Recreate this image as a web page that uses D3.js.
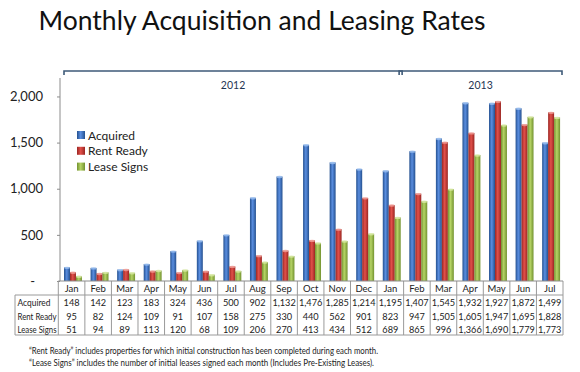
<!DOCTYPE html>
<html><head><meta charset="utf-8">
<script src="https://cdn.jsdelivr.net/npm/d3@7"></script>
<style>
html,body{margin:0;padding:0;background:#fff;}
svg{display:block;font-family:Lato,"Open Sans",sans-serif;}
</style></head>
<body>
<svg id="chart" width="580" height="372"></svg>
<script>
const months = ["Jan","Feb","Mar","Apr","May","Jun","Jul","Aug","Sep","Oct","Nov","Dec","Jan","Feb","Mar","Apr","May","Jun","Jul"];
const seriesNames = ["Acquired","Rent Ready","Lease Signs"];
const acquired = [148,142,123,183,324,436,500,902,1132,1476,1285,1214,1195,1407,1545,1932,1927,1872,1499];
const rentReady = [95,82,124,109,91,107,158,275,330,440,562,901,823,947,1505,1605,1947,1695,1828];
const leaseSigns = [51,94,89,113,120,68,109,206,270,413,434,512,689,865,996,1366,1690,1779,1773];
const yTicks = [0,500,1000,1500,2000];
const years = [{label:"2012", from:0, to:12},{label:"2013", from:13, to:18}];
const notes = ["\u201CRent Ready\u201D includes properties for which initial construction has been completed during each month.",
               "\u201CLease Signs\u201D includes the number of initial leases signed each month (Includes Pre-Existing Leases)."];

const values = [acquired, rentReady, leaseSigns];
const colors = [
  {edge:"#24508f", mid:"#5a8ee0", top:"#9cc0f0"},
  {edge:"#9a2622", mid:"#e2504a", top:"#f0a09a"},
  {edge:"#72922f", mid:"#b6d465", top:"#d9eaa8"}
];

const svg = d3.select("#chart");
const defs = svg.append("defs");
colors.forEach((c,i)=>{
  const g = defs.append("linearGradient").attr("id","g"+i).attr("x1","0").attr("x2","1").attr("y1","0").attr("y2","0");
  g.append("stop").attr("offset","0%").attr("stop-color",c.edge);
  g.append("stop").attr("offset","45%").attr("stop-color",c.mid);
  g.append("stop").attr("offset","100%").attr("stop-color",c.edge);
});

const x = d3.scaleBand().domain(d3.range(months.length)).range([58.3, 563]).padding(0);
const bw = x.bandwidth();
const xs = d3.scaleBand().domain(d3.range(3)).range([bw*0.215, bw*0.89]);
const y = d3.scaleLinear().domain([0,2200]).range([281, 78]);

// title
svg.append("text").attr("x",262).attr("y",30).attr("text-anchor","middle")
  .attr("font-size",26.5).attr("fill","#111").text("Monthly Acquisition and Leasing Rates");

// year brackets
const br = svg.append("g").attr("stroke","#3e5a78").attr("stroke-width",1.6).attr("fill","none");
years.forEach((yr,i)=>{
  const x0 = i===0 ? 64 : x(yr.from)-4.5;
  const x1 = i===0 ? x(yr.to)+bw-1.5 : x(yr.to)+bw-1;
  br.append("path").attr("d",`M${x0},75V71H${x1}V75`);
  svg.append("text").attr("x",(x0+x1)/2).attr("y",89).attr("text-anchor","middle")
    .attr("font-size",10.5).attr("fill","#1f3552").text(yr.label);
});

// y axis
const yAxis = d3.axisLeft(y).tickValues(yTicks).tickSize(3).tickPadding(14)
  .tickFormat(d=> d===0 ? "-" : d3.format(",")(d));
const ga = svg.append("g").attr("transform","translate(60,0)").call(yAxis);
ga.select(".domain").attr("stroke","#8c8c8c").attr("d",`M0,${y(2200)}V${y(0)}`);
ga.selectAll(".tick line").attr("stroke","#8c8c8c");
ga.selectAll(".tick text").attr("font-family","Lato").attr("font-size",13).attr("fill","#222");
ga.selectAll(".tick").filter(d=>d===0).select("text").attr("dx",-8);

// bars
const gb = svg.append("g");
values.forEach((vals,si)=>{
  const g = gb.append("g");
  g.selectAll("rect").data(vals).join("rect")
    .attr("x",(d,i)=>x(i)+xs(si)).attr("width",xs.bandwidth())
    .attr("y",d=>y(d)).attr("height",d=>y(0)-y(d))
    .attr("fill",`url(#g${si})`);
  g.selectAll("ellipse").data(vals).join("ellipse")
    .attr("cx",(d,i)=>x(i)+xs(si)+xs.bandwidth()/2).attr("cy",d=>y(d)+0.5)
    .attr("rx",xs.bandwidth()/2).attr("ry",1.2).attr("fill",colors[si].top).attr("opacity",0.8);
});

// legend
const lg = svg.append("g").attr("transform","translate(77,131)");
seriesNames.forEach((n,i)=>{
  lg.append("rect").attr("x",0).attr("y",i*15.8).attr("width",8).attr("height",8).attr("fill",`url(#g${i})`);
  lg.append("text").attr("x",11).attr("y",i*15.8+8.5).attr("font-size",12).attr("fill","#222").text(n);
});

// table
const tb = svg.append("g").attr("stroke","#9a9a9a").attr("stroke-width",1).attr("fill","none");
const top0 = 281, hdrBot = 295, tBot = 335, labL = 15;
tb.append("line").attr("x1",labL).attr("x2",563).attr("y1",hdrBot).attr("y2",hdrBot);
tb.append("line").attr("x1",labL).attr("x2",563).attr("y1",tBot).attr("y2",tBot);
tb.append("line").attr("x1",labL).attr("x2",labL).attr("y1",hdrBot).attr("y2",tBot);
tb.selectAll("line.v").data(d3.range(months.length+1)).join("line").attr("class","v")
  .attr("x1",i=>i<months.length?x(i):x(months.length-1)+bw).attr("x2",i=>i<months.length?x(i):x(months.length-1)+bw)
  .attr("y1",top0).attr("y2",tBot);
tb.append("line").attr("x1",58.3).attr("x2",563).attr("y1",top0).attr("y2",top0).attr("stroke","#8c8c8c");

svg.append("g").selectAll("text").data(months).join("text")
  .attr("x",(d,i)=>x(i)+bw/2).attr("y",292).attr("text-anchor","middle")
  .attr("font-size",9.5).attr("fill","#222").text(d=>d);

const rowY = [306,319.5,332.5];
const labelW = [33,39,39];
seriesNames.forEach((n,r)=>{
  svg.append("text").attr("x",17.5).attr("y",rowY[r]).attr("font-size",9.5).attr("fill","#222")
    .attr("textLength",labelW[r]).attr("lengthAdjust","spacingAndGlyphs").text(n);
  svg.append("g").selectAll("text").data(values[r]).join("text")
    .attr("x",(d,i)=>x(i)+bw/2).attr("y",rowY[r]).attr("text-anchor","middle")
    .attr("font-size",9.2).attr("fill","#222").text(d=>d3.format(",")(d));
});

// notes
const noteW = [349,345];
notes.forEach((t,i)=>{
  svg.append("text").attr("x",29).attr("y",354+i*12).attr("font-size",8.6).attr("fill","#222")
    .attr("textLength",noteW[i]).attr("lengthAdjust","spacingAndGlyphs").text(t);
});
</script>
</body></html>
